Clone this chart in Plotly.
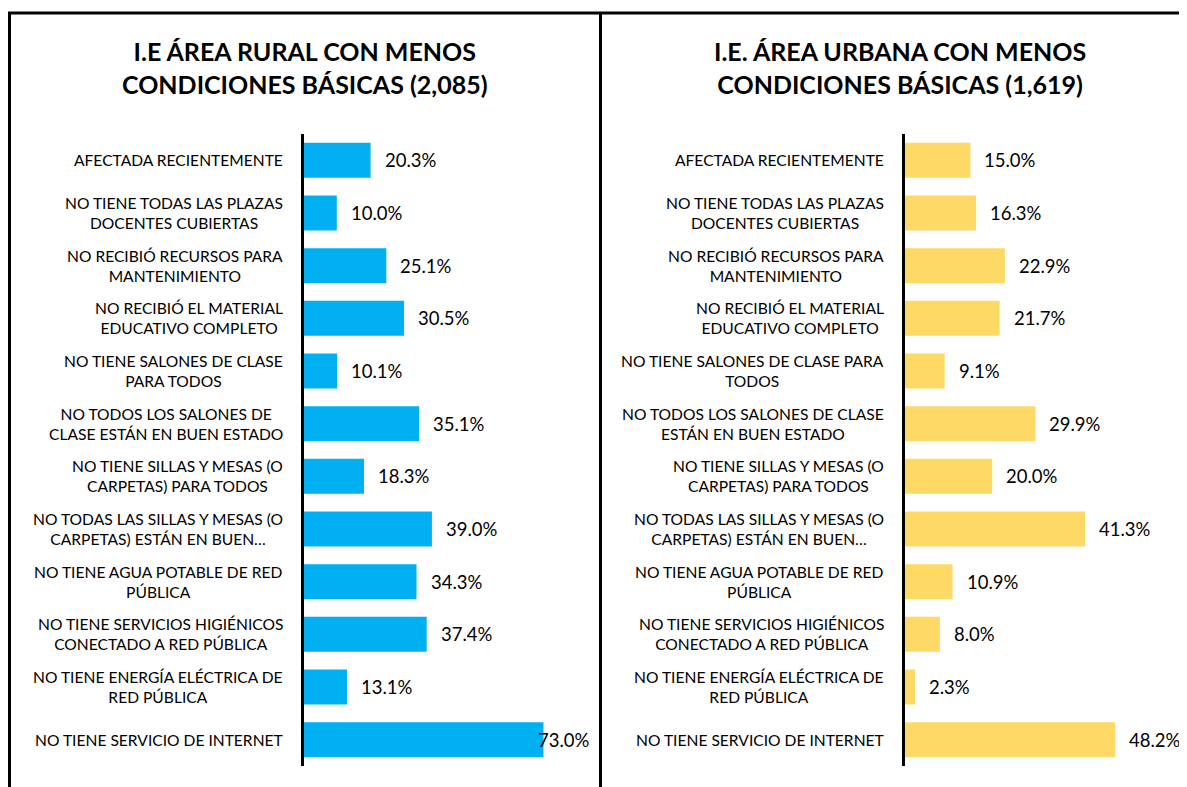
import plotly.graph_objects as go

W, H = 1187, 787
OFF = 8  # default page margin of the browser body
FW, FH = W - OFF, H - OFF

categories = [
    "AFECTADA RECIENTEMENTE",
    "NO TIENE TODAS LAS PLAZAS DOCENTES CUBIERTAS",
    "NO RECIBIÓ RECURSOS PARA MANTENIMIENTO",
    "NO RECIBIÓ EL MATERIAL EDUCATIVO COMPLETO",
    "NO TIENE SALONES DE CLASE PARA TODOS",
    "NO TODOS LOS SALONES DE CLASE ESTÁN EN BUEN ESTADO",
    "NO TIENE SILLAS Y MESAS (O CARPETAS) PARA TODOS",
    "NO TODAS LAS SILLAS Y MESAS (O CARPETAS) ESTÁN EN BUEN…",
    "NO TIENE AGUA POTABLE DE RED PÚBLICA",
    "NO TIENE SERVICIOS HIGIÉNICOS CONECTADO A RED PÚBLICA",
    "NO TIENE ENERGÍA ELÉCTRICA DE RED PÚBLICA",
    "NO TIENE SERVICIO DE INTERNET",
]

labels_rural = [
    "AFECTADA RECIENTEMENTE",
    "NO TIENE TODAS LAS PLAZAS<br>DOCENTES CUBIERTAS",
    "NO RECIBIÓ RECURSOS PARA<br>MANTENIMIENTO",
    "NO RECIBIÓ EL MATERIAL<br>EDUCATIVO COMPLETO",
    "NO TIENE SALONES DE CLASE<br>PARA TODOS",
    "NO TODOS LOS SALONES DE<br>CLASE ESTÁN EN BUEN ESTADO",
    "NO TIENE SILLAS Y MESAS (O<br>CARPETAS) PARA TODOS",
    "NO TODAS LAS SILLAS Y MESAS (O<br>CARPETAS) ESTÁN EN BUEN…",
    "NO TIENE AGUA POTABLE DE RED<br>PÚBLICA",
    "NO TIENE SERVICIOS HIGIÉNICOS<br>CONECTADO A RED PÚBLICA",
    "NO TIENE ENERGÍA ELÉCTRICA DE<br>RED PÚBLICA",
    "NO TIENE SERVICIO DE INTERNET",
]

labels_urbana = [
    "AFECTADA RECIENTEMENTE",
    "NO TIENE TODAS LAS PLAZAS<br>DOCENTES CUBIERTAS",
    "NO RECIBIÓ RECURSOS PARA<br>MANTENIMIENTO",
    "NO RECIBIÓ EL MATERIAL<br>EDUCATIVO COMPLETO",
    "NO TIENE SALONES DE CLASE PARA<br>TODOS",
    "NO TODOS LOS SALONES DE CLASE<br>ESTÁN EN BUEN ESTADO",
    "NO TIENE SILLAS Y MESAS (O<br>CARPETAS) PARA TODOS",
    "NO TODAS LAS SILLAS Y MESAS (O<br>CARPETAS) ESTÁN EN BUEN…",
    "NO TIENE AGUA POTABLE DE RED<br>PÚBLICA",
    "NO TIENE SERVICIOS HIGIÉNICOS<br>CONECTADO A RED PÚBLICA",
    "NO TIENE ENERGÍA ELÉCTRICA DE<br>RED PÚBLICA",
    "NO TIENE SERVICIO DE INTERNET",
]

rural_values = [20.3, 10.0, 25.1, 30.5, 10.1, 35.1, 18.3, 39.0, 34.3, 37.4, 13.1, 73.0]
urbana_values = [15.0, 16.3, 22.9, 21.7, 9.1, 29.9, 20.0, 41.3, 10.9, 8.0, 2.3, 48.2]

title_rural = "I.E ÁREA RURAL CON MENOS<br>CONDICIONES BÁSICAS (2,085)"
title_urbana = "I.E. ÁREA URBANA CON MENOS<br>CONDICIONES BÁSICAS (1,619)"

BLUE = "#00B0F0"
GOLD = "#FFD966"
FONT = "Lato"

# layout in page pixels
L_X0, L_X1, L_RANGE = 304, 592, 87.8
R_X0, R_X1, R_RANGE = 905, 1185, 64.2
Y_TOP, Y_BOT = 134, 766

def px(x):
    return (x - OFF) / FW

def py(y):
    return 1 - (y - OFF) / FH

fig = go.Figure()
fig.add_trace(go.Bar(x=rural_values, y=categories, orientation="h",
                     marker=dict(color=BLUE, line=dict(width=0)),
                     xaxis="x", yaxis="y", showlegend=False, hoverinfo="x+y"))
fig.add_trace(go.Bar(x=urbana_values, y=categories, orientation="h",
                     marker=dict(color=GOLD, line=dict(width=0)),
                     xaxis="x2", yaxis="y2", showlegend=False, hoverinfo="x+y"))

annotations = []
for vals, labs, xref, yref, x0, x1, rng in [
    (rural_values, labels_rural, "x", "y", L_X0, L_X1, L_RANGE),
    (urbana_values, labels_urbana, "x2", "y2", R_X0, R_X1, R_RANGE),
]:
    scale = (x1 - x0) / rng
    for cat, lab, v in zip(categories, labs, vals):
        annotations.append(dict(
            x=0, y=cat, xref=xref + " domain", yref=yref, text=lab,
            xanchor="right", yanchor="middle", align="center", xshift=-19,
            showarrow=False, font=dict(family=FONT, size=15.6, color="#000000")))
        txt = f"{v:.1f}%"
        if v * scale + 15 + 54 > (x1 - x0):
            annotations.append(dict(
                x=1, y=cat, xref=xref + " domain", yref=yref, text=txt,
                xanchor="right", yanchor="middle", showarrow=False,
                font=dict(family=FONT, size=18.5, color="#000000")))
        else:
            annotations.append(dict(
                x=v, y=cat, xref=xref, yref=yref, text=txt,
                xanchor="left", yanchor="middle", xshift=12, showarrow=False,
                font=dict(family=FONT, size=18.5, color="#000000")))

for t, cx in [(title_rural, 305), (title_urbana, 900)]:
    annotations.append(dict(
        x=px(cx), y=py(68), xref="paper", yref="paper", text="<b>" + t + "</b>",
        xanchor="center", yanchor="middle", align="center", showarrow=False,
        font=dict(family=FONT, size=25, color="#000000")))

shapes = [
    dict(type="line", xref="paper", yref="paper", x0=px(8), x1=1, y0=py(13), y1=py(13),
         line=dict(color="#000000", width=3)),
    dict(type="line", xref="paper", yref="paper", x0=px(9.5), x1=px(9.5), y0=py(12), y1=0,
         line=dict(color="#000000", width=3)),
    dict(type="line", xref="paper", yref="paper", x0=px(600.5), x1=px(600.5), y0=py(12), y1=0,
         line=dict(color="#000000", width=3)),
]

axis_common = dict(showgrid=False, zeroline=False, showticklabels=False, ticks="",
                   fixedrange=True)
fig.update_layout(
    width=FW, height=FH,
    margin=dict(l=0, r=0, t=0, b=0),
    paper_bgcolor="white", plot_bgcolor="white",
    bargap=0.336,
    font=dict(family=FONT, color="#000000"),
    xaxis=dict(domain=[px(L_X0), px(L_X1)], range=[0, L_RANGE], anchor="y", **axis_common),
    yaxis=dict(domain=[py(Y_BOT), py(Y_TOP)], anchor="x", autorange="reversed",
               showline=True, linecolor="#000000", linewidth=3, **axis_common),
    xaxis2=dict(domain=[px(R_X0), px(R_X1)], range=[0, R_RANGE], anchor="y2", **axis_common),
    yaxis2=dict(domain=[py(Y_BOT), py(Y_TOP)], anchor="x2", autorange="reversed",
                showline=True, linecolor="#000000", linewidth=3, **axis_common),
    annotations=annotations,
    shapes=shapes,
)

fig.write_html("out.html")
